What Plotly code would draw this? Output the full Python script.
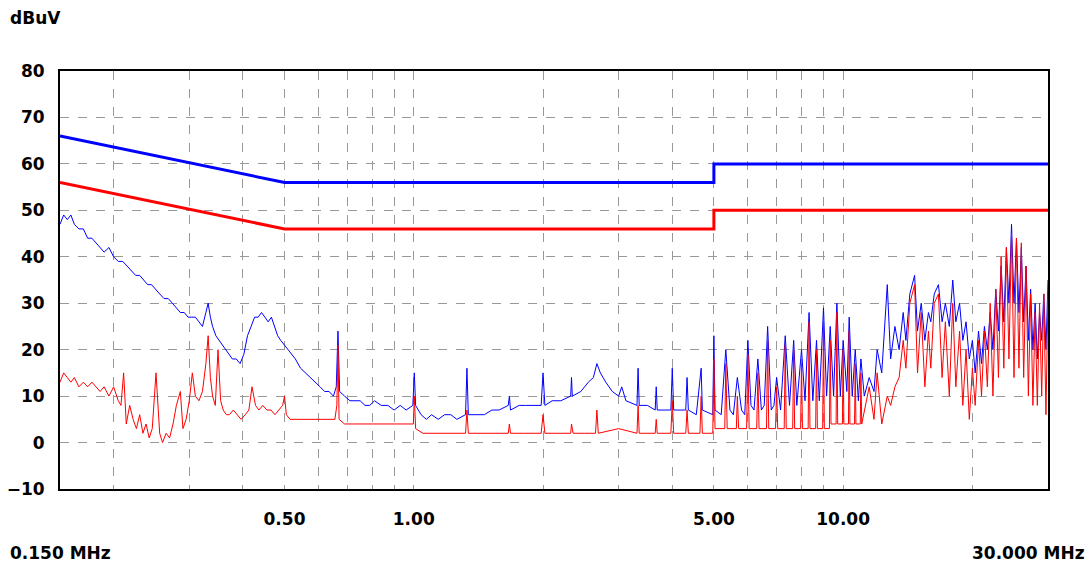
import plotly.graph_objects as go

# Limit lines (MHz, dBuV)
qp_limit_f = [0.15, 0.5, 0.5, 5.0, 5.0, 30.0]
qp_limit_v = [66, 56, 56, 56, 60, 60]
av_limit_f = [0.15, 0.5, 0.5, 5.0, 5.0, 30.0]
av_limit_v = [56, 46, 46, 46, 50, 50]

# Measured peak trace (blue): (MHz, dBuV)
blue_pts = [
(0.150,47),(0.153,49),(0.156,48),(0.159,49),(0.162,47),(0.166,46),(0.170,46),(0.174,44),(0.178,44),(0.182,43),
(0.186,42),(0.190,41),(0.195,42),(0.200,40),(0.205,39),(0.210,39),(0.215,38),(0.220,37),(0.225,36),(0.230,36),
(0.235,35),(0.240,34),(0.245,34),(0.250,33),(0.256,32),(0.262,31),(0.268,31),(0.274,30),(0.280,29),(0.286,28),
(0.292,28),(0.298,27),(0.304,27),(0.310,27),(0.316,26),(0.322,25),(0.328,28),(0.332,30),(0.336,27),(0.340,25),
(0.346,23),(0.352,22),(0.358,21),(0.364,20),(0.370,19),(0.378,18),(0.386,18),(0.394,17),(0.402,19),(0.410,23),
(0.418,25),(0.426,27),(0.434,27),(0.442,28),(0.450,27),(0.458,26),(0.466,27),(0.474,25),(0.482,23),(0.490,22),
(0.500,21),(0.510,20),(0.520,19),(0.530,18),(0.545,16),(0.560,15),(0.575,14),(0.590,13),(0.605,12),(0.620,11),
(0.635,11),(0.650,10),(0.660,12),(0.666,24),(0.672,11),(0.690,10),(0.710,9),(0.730,9),(0.750,9),(0.770,8),
(0.790,8),(0.810,9),(0.840,8),(0.870,8),(0.900,7),(0.930,8),(0.960,7),(0.995,8),(1.003,15),(1.010,8),
(1.04,6),(1.07,5),(1.10,6),(1.14,5),(1.18,6),(1.22,6),(1.26,5),(1.32,6),(1.33,16),(1.34,6),
(1.40,6),(1.46,6),(1.52,7),(1.58,7),(1.66,8),(1.67,10),(1.68,7),(1.76,8),(1.82,8),(1.88,8),
(1.98,8),(2.00,15),(2.02,8),(2.10,9),(2.20,9),(2.32,10),(2.33,14),(2.34,10),(2.45,11),(2.55,13),
(2.62,14),(2.67,17),(2.72,15),(2.80,13),(2.90,11),(3.00,10),(3.05,12),(3.12,9),(3.31,8),(3.33,16),
(3.35,8),(3.50,8),(3.65,7),(3.67,12),(3.69,7),(3.97,7),(4.00,16),(4.03,7),(4.30,7),(4.33,14),
(4.36,7),(4.55,6),(4.67,16),(4.70,7),(4.97,6),(5.00,23),(5.03,7),(5.20,6),(5.33,20),(5.45,7),
(5.55,6),(5.67,14),(5.80,7),(5.90,6),(6.00,22),(6.10,8),(6.20,7),(6.33,18),(6.45,7),(6.55,8),
(6.67,25),(6.80,7),(6.90,8),(7.00,14),(7.15,7),(7.33,23),(7.50,8),(7.67,22),(7.80,8),(8.00,20),
(8.15,9),(8.33,28),(8.50,9),(8.67,22),(8.80,9),(9.00,29),(9.15,10),(9.33,25),(9.50,10),(9.67,30),
(9.85,10),(10.0,22),(10.2,11),(10.33,27),(10.5,10),(10.67,20),(10.85,9),(11.0,18),(11.2,10),(11.5,14),
(11.8,11),(12.0,20),(12.3,15),(12.67,34),(12.9,18),(13.2,25),(13.5,20),(13.8,28),(14.0,22),(14.3,32),
(14.67,36),(14.9,24),(15.2,30),(15.5,22),(15.8,28),(16.0,26),(16.3,32),(16.67,34),(17.0,26),(17.3,30),
(17.67,25),(18.0,35),(18.3,26),(18.67,30),(19.0,22),(19.33,26),(19.67,18),(20.0,22),(20.3,15),(20.67,24),
(21.0,17),(21.33,25),(21.67,20),(22.0,28),(22.33,20),(22.67,33),(23.0,24),(23.33,38),(23.67,26),(24.0,42),
(24.33,30),(24.67,47),(25.0,30),(25.33,44),(25.67,28),(26.0,42),(26.33,26),(26.67,38),(27.0,22),(27.33,33),
(27.67,20),(28.0,30),(28.33,18),(28.67,28),(29.0,22),(29.33,32),(29.67,20),(30.0,35),
]

# Measured average trace (red): (MHz, dBuV)
red_pts = [
(0.150,13),(0.153,15),(0.156,14),(0.159,13),(0.162,14),(0.166,12),(0.170,13),(0.174,12),(0.178,13),(0.182,12),
(0.186,11),(0.190,12),(0.195,10),(0.200,12),(0.205,9),(0.208,8),(0.211,15),(0.214,4),(0.218,8),(0.222,5),
(0.226,3),(0.230,6),(0.234,2),(0.238,4),(0.242,1),(0.246,3),(0.251,15),(0.256,2),(0.260,0),(0.265,2),
(0.270,1),(0.275,4),(0.280,8),(0.286,11),(0.290,3),(0.295,5),(0.300,9),(0.305,15),(0.310,10),(0.316,9),
(0.322,11),(0.328,17),(0.332,23),(0.336,14),(0.340,10),(0.345,8),(0.350,20),(0.355,9),(0.360,7),(0.366,6),
(0.372,6),(0.380,7),(0.388,6),(0.396,5),(0.405,6),(0.413,7),(0.420,12),(0.428,8),(0.436,7),(0.445,8),
(0.455,7),(0.465,7),(0.475,6),(0.485,7),(0.495,8),(0.500,10),(0.505,6),(0.515,5),(0.530,5),(0.550,5),
(0.570,5),(0.590,5),(0.610,5),(0.630,5),(0.655,5),(0.662,8),(0.666,21),(0.670,5),(0.690,4),(0.720,4),
(0.750,4),(0.780,4),(0.810,4),(0.850,4),(0.890,4),(0.930,4),(0.970,4),(0.998,4),(1.003,10),(1.010,3),
(1.05,2),(1.10,2),(1.15,2),(1.20,2),(1.26,2),(1.32,2),(1.33,7),(1.34,2),(1.45,2),(1.55,2),
(1.66,2),(1.67,4),(1.68,2),(1.80,2),(1.98,2),(2.00,6),(2.02,2),(2.20,2),(2.32,2),(2.33,4),
(2.35,2),(2.50,2),(2.65,2),(2.67,7),(2.69,2),(3.00,3),(3.31,2),(3.33,8),(3.35,2),(3.65,2),
(3.67,5),(3.69,2),(3.97,2),(4.00,9),(4.03,2),(4.30,2),(4.33,7),(4.36,2),(4.64,2),(4.67,10),
(4.70,2),(4.97,2),(5.00,18),(5.03,3),(5.30,3),(5.33,17),(5.37,3),(5.64,3),(5.67,10),(5.71,3),
(5.96,3),(6.00,19),(6.04,3),(6.29,3),(6.33,15),(6.37,3),(6.63,3),(6.67,22),(6.71,3),(6.96,3),
(7.00,12),(7.04,3),(7.29,3),(7.33,21),(7.37,3),(7.63,3),(7.67,20),(7.71,3),(7.96,3),(8.00,17),
(8.04,3),(8.29,3),(8.33,26),(8.37,3),(8.63,3),(8.67,20),(8.71,3),(8.96,3),(9.00,26),(9.04,3),
(9.29,3),(9.33,22),(9.37,4),(9.63,4),(9.67,28),(9.71,4),(9.96,4),(10.0,20),(10.04,4),(10.29,4),
(10.33,24),(10.37,4),(10.63,4),(10.67,17),(10.71,4),(10.96,4),(11.0,15),(11.05,4),(11.5,12),(11.8,5),
(12.0,15),(12.3,4),(12.67,10),(12.9,8),(13.2,12),(13.5,14),(13.8,22),(14.0,16),(14.3,30),(14.67,34),
(14.9,15),(15.2,28),(15.5,12),(15.8,24),(16.0,16),(16.3,30),(16.67,32),(17.0,14),(17.3,26),(17.67,10),
(18.0,30),(18.3,12),(18.67,24),(19.0,8),(19.33,20),(19.67,5),(20.0,16),(20.3,8),(20.67,22),(21.0,10),
(21.33,24),(21.67,12),(22.0,30),(22.33,10),(22.67,33),(23.0,14),(23.33,40),(23.67,16),(24.0,42),(24.33,18),
(24.67,45),(25.0,14),(25.33,44),(25.67,16),(26.0,43),(26.33,14),(26.67,38),(27.0,10),(27.33,32),(27.67,8),
(28.0,28),(28.33,8),(28.67,30),(29.0,10),(29.33,32),(29.67,6),(30.0,32),
]

x_grid = [0.2,0.3,0.4,0.5,0.6,0.7,0.8,0.9,1,2,3,4,5,6,7,8,9,10,20]
x_labels = {0.5: "0.50", 1: "1.00", 5: "5.00", 10: "10.00"}
y_ticks = list(range(-10, 81, 10))

BLUE = "#0000FF"
RED = "#FF0000"
FONT = "DejaVu Sans"
TF = dict(family=FONT, size=17, color="black", weight="bold")

fig = go.Figure()
fig.add_trace(go.Scatter(x=[p[0] for p in blue_pts], y=[p[1] for p in blue_pts],
                         mode="lines", line=dict(color=BLUE, width=1)))
fig.add_trace(go.Scatter(x=[p[0] for p in red_pts], y=[p[1] for p in red_pts],
                         mode="lines", line=dict(color=RED, width=1)))
fig.add_trace(go.Scatter(x=qp_limit_f, y=qp_limit_v, mode="lines", line=dict(color=BLUE, width=3)))
fig.add_trace(go.Scatter(x=av_limit_f, y=av_limit_v, mode="lines", line=dict(color=RED, width=3)))

fig.update_layout(
    width=1091, height=568, showlegend=False,
    paper_bgcolor="white", plot_bgcolor="white",
    margin=dict(l=60, r=43, t=71, b=79, autoexpand=False),
    font=dict(family=FONT, size=15, color="black"),
    xaxis=dict(type="log", range=[-0.8239, 1.4771], automargin=False,
               tickvals=x_grid, ticktext=[x_labels.get(v, "") for v in x_grid],
               showgrid=True, gridcolor="#999999", griddash="dash", gridwidth=1,
               showline=True, linecolor="black", linewidth=2, mirror=True,
               ticks="", ticklabelstandoff=14, tickfont=TF, zeroline=False),
    yaxis=dict(range=[-10, 80], tickvals=y_ticks, automargin=False,
               showgrid=True, gridcolor="#999999", griddash="dash", gridwidth=1,
               showline=True, linecolor="black", linewidth=2, mirror=True,
               ticks="", ticklabelstandoff=10, zeroline=False, tickfont=TF),
)
for txt, x, y, xa in [("dBuV", 8, 18, "left"), ("0.150 MHz", 8, 553, "left"), ("30.000 MHz", 1087, 553, "right")]:
    fig.add_annotation(text="<b>%s</b>" % txt, xref="paper", yref="paper",
                       x=(x - 60) / 988, y=1 - (y - 71) / 418, xanchor=xa, yanchor="middle",
                       showarrow=False, font=dict(family=FONT, size=17, color="black"))

fig.write_html("out.html", config={"displayModeBar": False})
with open("out.html", encoding="utf-8") as f:
    html = f.read()
html = html.replace("<body>", '<body style="margin:0;overflow:hidden">', 1)
with open("out.html", "w", encoding="utf-8") as f:
    f.write(html)
